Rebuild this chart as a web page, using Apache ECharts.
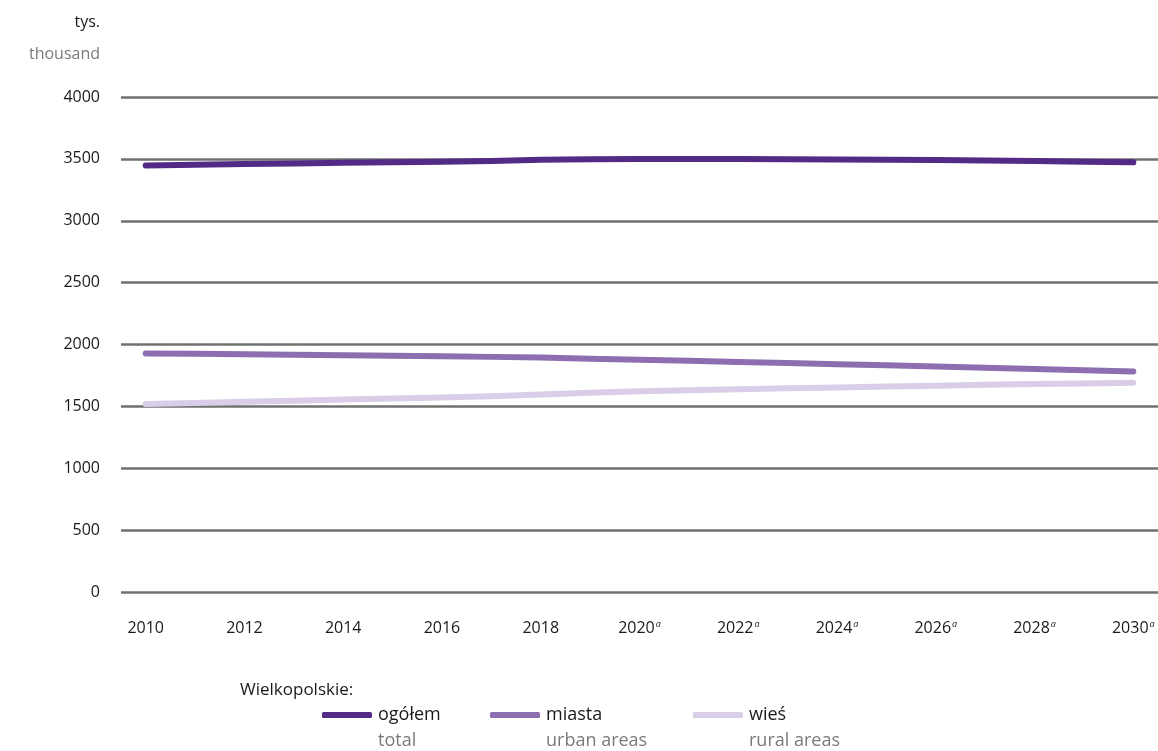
<!DOCTYPE html>
<html><head><meta charset="utf-8">
<script src="https://cdn.jsdelivr.net/npm/echarts@6/dist/echarts.min.js"></script>
<style>html,body{margin:0;padding:0;background:#fff}#c{width:1158px;height:751px}</style>
</head><body><div id="c"></div>
<script>
const years = ['2010','2011','2012','2013','2014','2015','2016','2017','2018','2019','2020','2021','2022','2023','2024','2025','2026','2027','2028','2029','2030'];
const forecastFrom = 2020;
const ogolem = [3447,3452,3458,3463,3468,3473,3477,3482,3492,3497,3499,3499,3498,3497,3495,3493,3490,3487,3482,3477,3472];
const miasta = [1928,1925,1921,1917,1913,1909,1905,1900,1894,1885,1876,1868,1859,1850,1841,1832,1822,1812,1802,1792,1782];
const wies   = [1519,1527,1537,1546,1555,1564,1572,1582,1596,1611,1622,1630,1638,1646,1653,1660,1667,1674,1680,1685,1690];
const yTicks = [0,500,1000,1500,2000,2500,3000,3500,4000];
const seriesNames = ['ogółem','miasta','wieś'];
const seriesSub = ['total','urban areas','rural areas'];
const colors = ['#532a85','#8d6eb0','#d9cde7'];

const FONT = "'Open Sans',sans-serif";
const TXT = '#1a1a1a';
const chart = echarts.init(document.getElementById('c'));
const legendLeft = [322, 490, 693];
const vals = [ogolem, miasta, wies];
chart.setOption({
  animation:false,
  textStyle:{fontFamily:FONT},
  grid:{left:121,right:0,top:97,bottom:159},
  xAxis:{type:'category',data:years,boundaryGap:true,
    axisLine:{show:false},axisTick:{show:false},
    axisLabel:{interval:1,margin:28,color:TXT,fontSize:16,fontFamily:FONT,
      formatter:function(v){return (+v>=forecastFrom)?'{y|'+v+'}{s|a}':'{y|'+v+'}';},
      rich:{y:{fontSize:16,color:TXT,fontFamily:FONT},s:{fontSize:9,color:TXT,fontStyle:'italic',verticalAlign:'top',padding:[0,0,8,1],fontFamily:FONT}}}
  },
  yAxis:{type:'value',min:yTicks[0],max:yTicks[yTicks.length-1],interval:500,
    axisLine:{show:false},axisTick:{show:false},
    axisLabel:{margin:21,color:TXT,fontSize:16,fontFamily:FONT,formatter:function(v){return String(v);}},
    splitLine:{lineStyle:{color:'#707070',width:2.5}}
  },
  legend: seriesNames.map((n,i)=>({
    data:[n],left:legendLeft[i]-5,top:701,itemWidth:50,itemHeight:6,itemGap:0,
    icon:'roundRect',textStyle:{fontSize:18,color:TXT,fontFamily:FONT,padding:[0,0,0,1]},
    selectedMode:false
  })),
  graphic:[
    {type:'text',right:1158-100,top:14,style:{text:'tys.',fontSize:16,fill:TXT,fontFamily:FONT,textAlign:'right'}},
    {type:'text',right:1158-100,top:46,style:{text:'thousand',fontSize:16,fill:'#7a7a7a',fontFamily:FONT,textAlign:'right'}},
    {type:'text',left:240,top:682,style:{text:'Wielkopolskie:',fontSize:17,fill:TXT,fontFamily:FONT}},
    ...seriesSub.map((t,i)=>({type:'text',left:legendLeft[i]+56,top:732,style:{text:t,fontSize:18,fill:'#7a7a7a',fontFamily:FONT}}))
  ],
  series: seriesNames.map((n,i)=>({
    name:n,type:'line',data:vals[i],symbol:'none',smooth:false,
    lineStyle:{color:colors[i],width:6,cap:'round',join:'round'},
    itemStyle:{color:colors[i]},z:10-i
  }))
});
</script></body></html>
